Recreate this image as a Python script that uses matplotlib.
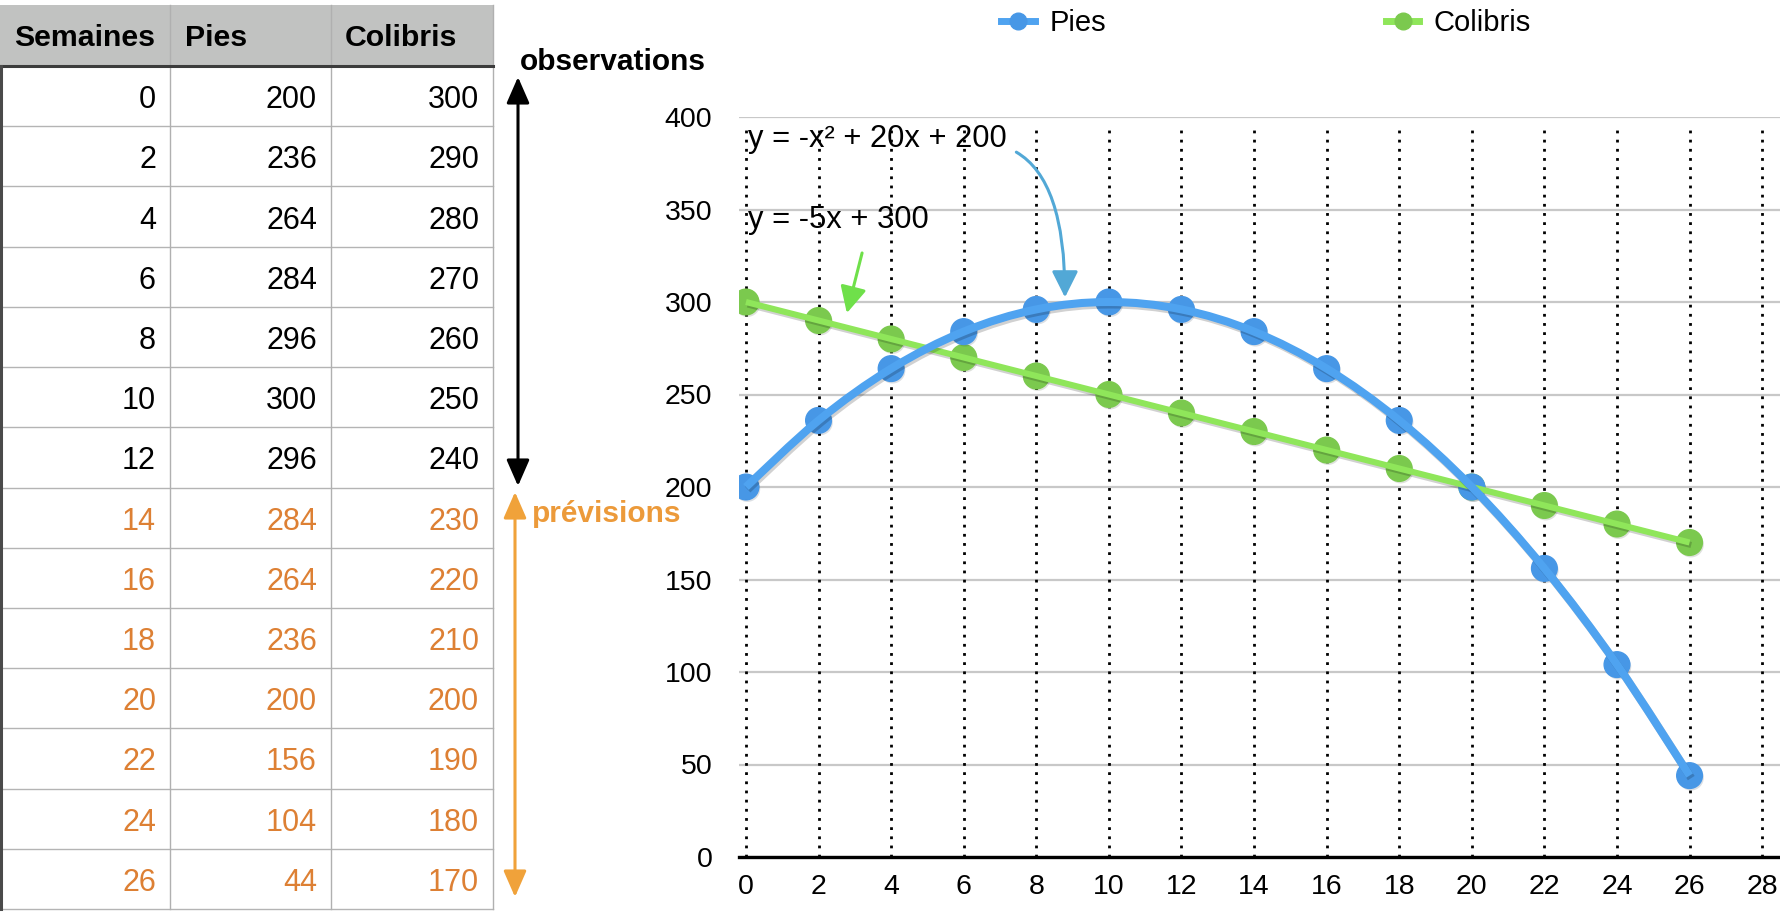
import matplotlib
matplotlib.use('Agg')
import matplotlib.pyplot as plt
from matplotlib.lines import Line2D
from matplotlib.patches import Rectangle, FancyArrowPatch, PathPatch
from matplotlib.path import Path
import matplotlib.patheffects as pe
from matplotlib import font_manager
import numpy as np

# ---------------- data ----------------
weeks = [0, 2, 4, 6, 8, 10, 12, 14, 16, 18, 20, 22, 24, 26]
pies = [200, 236, 264, 284, 296, 300, 296, 284, 264, 236, 200, 156, 104, 44]
colibris = [300, 290, 280, 270, 260, 250, 240, 230, 220, 210, 200, 190, 180, 170]
n_observed = 7
columns = ['Semaines', 'Pies', 'Colibris']
series_names = ['Pies', 'Colibris']
xticks = list(range(0, 29, 2))
yticks = list(range(0, 401, 50))
eq_pies = 'y = -x² + 20x + 200'
eq_colibris = 'y = -5x + 300'
label_obs = 'observations'
label_prev = 'prévisions'

# ---------------- style ----------------
plt.rcParams['font.family'] = ['Liberation Sans', 'DejaVu Sans']
avail = {f.name for f in font_manager.fontManager.ttflist}
narrow = ['Liberation Sans Narrow', 'Liberation Sans', 'DejaVu Sans'] if 'Liberation Sans Narrow' in avail else ['Liberation Sans', 'DejaVu Sans']

BLUE_M = '#4797e6'
BLUE_L = '#4fa3f0'
GREEN_M = '#7bc94e'
GREEN_L = '#8fe65a'
ORANGE_T = '#dd8034'
ORANGE_A = '#f0a23a'

W, H = 1780, 918
fig = plt.figure(figsize=(W / 100, H / 100), dpi=100)
fig.patch.set_facecolor('white')

# overlay axes in pixel coordinates for the table and side arrows
ov = fig.add_axes([0, 0, 1, 1])
ov.set_xlim(0, W)
ov.set_ylim(H, 0)
ov.axis('off')

# ---------------- table ----------------
col_edges = [0, 170, 331, 493]
head_top, head_bot = 5, 66
row_h = (909 - head_bot) / len(weeks)
ov.add_patch(Rectangle((0, head_top), col_edges[-1], head_bot - head_top,
                       facecolor='#c1c2c1', edgecolor='none', zorder=1))
head_x = [14, 185, 345]
for name, hx in zip(columns, head_x):
    ov.text(hx, (head_top + head_bot) / 2 + 2, name, fontsize=21.8, fontweight='bold',
            ha='left', va='center', color='black', zorder=3)
# grid lines
for i in range(len(weeks) + 1):
    y = head_bot + i * row_h
    ov.plot([0, col_edges[-1]], [y, y], color='#b4b4b4', lw=1.0, zorder=2)
for xe in col_edges[1:]:
    ov.plot([xe, xe], [head_top, head_bot + len(weeks) * row_h], color='#b0b0b0', lw=1.0, zorder=2)
ov.plot([0, col_edges[-1]], [head_bot, head_bot], color='#3c3c3c', lw=2.2, zorder=3)
ov.plot([1.2, 1.2], [head_bot, head_bot + len(weeks) * row_h], color='#4a4a4a', lw=2.2, zorder=3)

for i, (w, p, c) in enumerate(zip(weeks, pies, colibris)):
    yc = head_bot + (i + 0.5) * row_h + 4
    col = 'black' if i < n_observed else ORANGE_T
    for val, xe in zip((w, p, c), col_edges[1:]):
        ov.text(xe - 14, yc, str(val), fontsize=22, ha='right', va='center', color=col, zorder=3)

# observation / forecast arrows
ov.add_patch(FancyArrowPatch((518, 77), (518, 486), arrowstyle='<|-|>,head_length=0.8,head_width=0.35',
                             mutation_scale=20, color='black', lw=2.2, shrinkA=0, shrinkB=0, zorder=4))
ov.add_patch(FancyArrowPatch((515, 492), (515, 897), arrowstyle='<|-|>,head_length=0.8,head_width=0.35',
                             mutation_scale=20, color=ORANGE_A, lw=2.2, shrinkA=0, shrinkB=0, zorder=4))
ov.text(520, 70, label_obs, fontsize=21.5, fontweight='bold', family=narrow,
        ha='left', va='baseline', color='black')
ov.text(532, 522, label_prev, fontsize=21.5, fontweight='bold', family=narrow,
        ha='left', va='baseline', color='#ec9a3a')

# ---------------- chart ----------------
x_left, x_right = -0.2, 28.5
ax = fig.add_axes([738.7 / W, (H - 857) / H, (1780.3 - 738.7) / W, 740 / H])
ax.set_facecolor('none')
ax.set_xlim(x_left, x_right)
ax.set_ylim(0, 400)
for s in ('top', 'right', 'left'):
    ax.spines[s].set_visible(False)
ax.spines['bottom'].set_color('black')
ax.spines['bottom'].set_linewidth(2.4)
ax.spines['bottom'].set_zorder(6)
ax.set_xticks(xticks)
ax.set_yticks(yticks)
ax.tick_params(axis='both', length=0, labelsize=20.5)
ax.tick_params(axis='y', pad=19)
ax.tick_params(axis='x', pad=12)
ax.set_axisbelow(True)
ax.yaxis.grid(True, color='#c8c8c8', lw=1.6)
ax.vlines(xticks, 0, 396, colors='black', linestyles=(0, (1, 2.3)), lw=2.0, zorder=1)

shadow = [pe.SimpleLineShadow(offset=(1.2, -1.8), shadow_color='black', alpha=0.18), pe.Normal()]

# markers
ax.plot(weeks, colibris, 'o', ls='none', ms=18.5, color=GREEN_M, zorder=3,
        path_effects=[pe.SimplePatchShadow(offset=(1, -1.5), alpha=0.15), pe.Normal()])
ax.plot(weeks, pies, 'o', ls='none', ms=18.5, color=BLUE_M, zorder=3,
        path_effects=[pe.SimplePatchShadow(offset=(1, -1.5), alpha=0.15), pe.Normal()])

# straight Colibris line
ax.plot(weeks, colibris, '-', color=GREEN_L, lw=4.4, zorder=4, solid_capstyle='butt', path_effects=shadow)

# smooth Pies line (Catmull-Rom through the data, as Bezier path)
pts = np.column_stack([weeks, pies]).astype(float)
ext = np.vstack([pts[0], pts, pts[-1]])
verts = [tuple(pts[0])]
codes = [Path.MOVETO]
for i in range(1, len(ext) - 2):
    p0, p1, p2, p3 = ext[i - 1], ext[i], ext[i + 1], ext[i + 2]
    c1 = p1 + (p2 - p0) / 6.0
    c2 = p2 - (p3 - p1) / 6.0
    verts += [tuple(c1), tuple(c2), tuple(p2)]
    codes += [Path.CURVE4] * 3
ax.add_patch(PathPatch(Path(verts, codes), facecolor='none', edgecolor=BLUE_L, lw=5.8,
                       capstyle='butt', zorder=5, path_effects=shadow))

# equations
ax.text(0.05, 384, eq_pies, fontsize=22.2, ha='left', va='baseline', color='black', zorder=7)
ax.text(0.05, 340, eq_colibris, fontsize=22.2, ha='left', va='baseline', color='black', zorder=7)

# hand-drawn-like pointer arrows
ax.add_patch(FancyArrowPatch((7.45, 381), (8.79, 302.5), connectionstyle='angle3,angleA=-30,angleB=90',
                             arrowstyle='-|>,head_length=0.8,head_width=0.4', mutation_scale=20,
                             color='#52a8d6', lw=2.2, shrinkA=0, shrinkB=0, zorder=7))
ax.add_patch(FancyArrowPatch((3.2, 326.5), (2.78, 294), arrowstyle='-|>,head_length=0.8,head_width=0.4',
                             mutation_scale=20, color='#6fe04a', lw=2.2, shrinkA=0, shrinkB=0, zorder=7))

# legend
handles = [Line2D([0], [0], color=BLUE_L, lw=5, marker='o', ms=12, markerfacecolor=BLUE_M,
                  markeredgecolor=BLUE_M),
           Line2D([0], [0], color=GREEN_L, lw=5, marker='o', ms=12, markerfacecolor=GREEN_M,
                  markeredgecolor=GREEN_M)]
fig.legend(handles, series_names, loc='center left', bbox_to_anchor=(1001 / W, 1 - 23 / H),
           ncol=2, frameon=False, fontsize=21, handlelength=1.15, handletextpad=0.5,
           columnspacing=9.6, borderpad=0, borderaxespad=0, numpoints=1)

fig.savefig('out.png', dpi=100, facecolor='white')
